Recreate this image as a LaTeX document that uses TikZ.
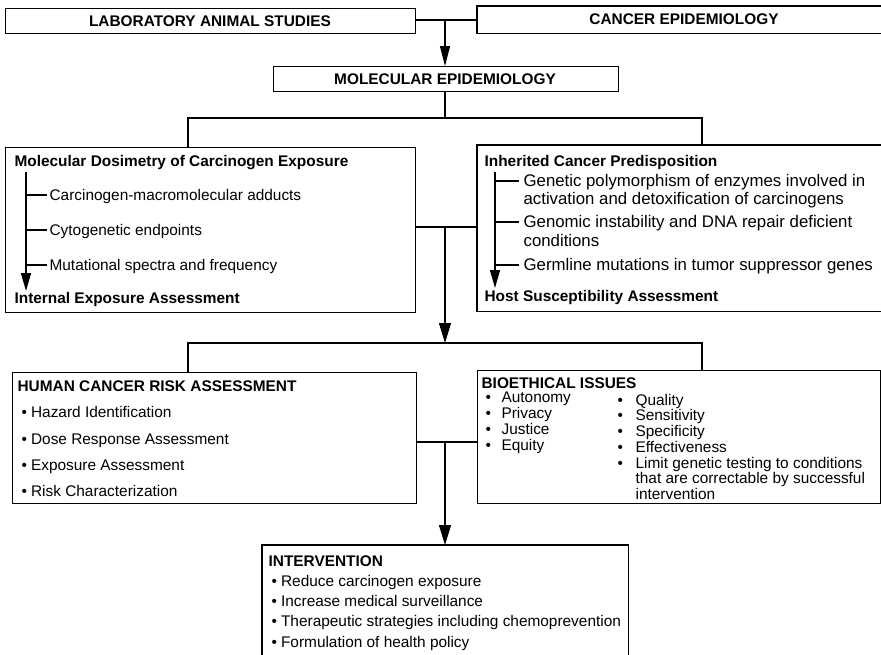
\documentclass[tikz,border=0pt]{standalone}
\usepackage{fontspec}
\setmainfont{Liberation Sans}
\usetikzlibrary{arrows.meta}
\newcommand{\mybul}[1][9.5pt]{\makebox[#1][l]{\textbullet}}
\begin{document}
\begin{tikzpicture}[x=1pt,y=-1pt,line width=1.2pt,
  box/.style={draw,rectangle,inner sep=0pt,anchor=north west},
  txt/.style={anchor=base west,inner sep=0pt,font=\fontsize{15.4}{18}\selectfont},
  btxt/.style={anchor=base west,inner sep=0pt,font=\fontsize{15.4}{18}\selectfont\bfseries},
  rtxt/.style={anchor=base west,inner sep=0pt,font=\fontsize{16.8}{18}\selectfont},
  arr/.style={-{Triangle[width=12pt,length=20pt]}},
  arrt/.style={-{Triangle[width=10pt,length=20pt]}},
  arri/.style={-{Triangle[width=10pt,length=18pt]}}]
\useasboundingbox (0,0) rectangle (881,654);
% boxes
\node[box,minimum width=410pt,minimum height=25pt] (lab) at (5,8) {};
\node[box,draw=none,minimum width=410pt,minimum height=26pt] (cep) at (477,6) {};
\draw (cep.north east) -- (cep.north west) -- (cep.south west) -- (cep.south east);
\node[box,minimum width=345pt,minimum height=25pt] (mol) at (273,66) {};
\node[box,minimum width=410pt,minimum height=165pt] (mds) at (5,147) {};
\node[box,draw=none,minimum width=410pt,minimum height=165pt] (icp) at (477,145) {};
\draw (icp.north east) -- (icp.north west) -- (icp.south west) -- (icp.south east);
\node[box,minimum width=404pt,minimum height=131pt] (hcr) at (12,372) {};
\node[box,minimum width=403pt,minimum height=133pt] (bio) at (477,370) {};
\node[box,draw=none,minimum width=365pt,minimum height=112pt] (int) at (262,545) {};
\draw (int.south west) -- (int.north west) -- (int.north east) -- (int.south east);
% top texts
\node[btxt,anchor=base] (labt) at (210,26.5) {LABORATORY ANIMAL STUDIES};
\node[btxt,anchor=base] (cept) at (684,24.5) {CANCER EPIDEMIOLOGY};
\node[btxt,anchor=base] (molt) at (445,84.5) {MOLECULAR EPIDEMIOLOGY};
% left middle box
\node[btxt] (mdst) at (14,166) {Molecular Dosimetry of Carcinogen Exposure};
\node[txt] (m1) at (49,200) {Carcinogen-macromolecular adducts};
\node[txt] (m2) at (49,235) {Cytogenetic endpoints};
\node[txt] (m3) at (49,270) {Mutational spectra and frequency};
\node[btxt] (mdsb) at (14,303) {Internal Exposure Assessment};
\coordinate (la) at (26,172);
\coordinate (lb) at (26,291);
\draw[arri] (la) -- (lb);
\foreach \n in {m1,m2,m3} \draw ([xshift=-2pt,yshift=5pt]\n.base west) -- +(-21,0);
% right middle box
\node[btxt] (icpt) at (484,166) {Inherited Cancer Predisposition};
\node[rtxt] (r1) at (523,186) {Genetic polymorphism of enzymes involved in};
\node[rtxt] (r1b) at (523,204) {activation and detoxification of carcinogens};
\node[rtxt] (r2) at (523,227) {Genomic instability and DNA repair deficient};
\node[rtxt] (r2b) at (523,246) {conditions};
\node[rtxt] (r3) at (523,270) {Germline mutations in tumor suppressor genes};
\node[btxt] (icpb) at (484,301) {Host Susceptibility Assessment};
\coordinate (ra) at (495,172);
\coordinate (rb) at (495,288);
\draw[arri] (ra) -- (rb);
\foreach \n in {r1,r2,r3} \draw ([xshift=-4pt,yshift=5pt]\n.base west) -- +(-24,0);
% human cancer risk
\node[btxt] (hcrt) at (17,391) {HUMAN CANCER RISK ASSESSMENT};
\node[txt] (h1) at (21,417) {\mybul Hazard Identification};
\node[txt] (h2) at (21,444) {\mybul Dose Response Assessment};
\node[txt] (h3) at (21,470) {\mybul Exposure Assessment};
\node[txt] (h4) at (21,496) {\mybul Risk Characterization};
% bioethical
\node[btxt] (biot) at (481,388) {BIOETHICAL ISSUES};
\node[txt] (b1) at (485,402) {\mybul[16pt]Autonomy};
\node[txt] (b2) at (485,418) {\mybul[16pt]Privacy};
\node[txt] (b3) at (485,434) {\mybul[16pt]Justice};
\node[txt] (b4) at (485,450) {\mybul[16pt]Equity};
\node[txt] (c1) at (617,405) {\mybul[18pt]Quality};
\node[txt] (c2) at (617,420) {\mybul[18pt]Sensitivity};
\node[txt] (c3) at (617,436) {\mybul[18pt]Specificity};
\node[txt] (c4) at (617,452) {\mybul[18pt]Effectiveness};
\node[txt] (c5) at (617,468) {\mybul[18pt]Limit genetic testing to conditions};
\node[txt] (c5b) at (635,483) {that are correctable by successful};
\node[txt] (c5c) at (635,499) {intervention};
% intervention
\node[btxt] (intt) at (268,566) {INTERVENTION};
\node[txt] (i1) at (271,586) {\mybul Reduce carcinogen exposure};
\node[txt] (i2) at (271,606) {\mybul Increase medical surveillance};
\node[txt] (i3) at (271,626) {\mybul Therapeutic strategies including chemoprevention};
\node[txt] (i4) at (271,647) {\mybul Formulation of health policy};
% connectors
\coordinate (j1) at (445,20);
\draw (lab.east |- j1) -- (cep.west |- j1);
\draw[arrt] (j1) -- (mol.north -| j1);
\coordinate (t1) at (188,118);
\coordinate (t2) at (702,118);
\coordinate (j2) at (445,118);
\draw (mol.south -| j2) -- (j2);
\draw (t1 |- mds.north) -- (t1) -- (t2) -- (t2 |- icp.north);
\coordinate (j3) at (445,227);
\coordinate (j4) at (445,343);
\draw (mds.east |- j3) -- (icp.west |- j3);
\draw[arr] (j3) -- (j4);
\coordinate (t3) at (188,343);
\coordinate (t4) at (702,343);
\draw (t3 |- hcr.north) -- (t3) -- (t4) -- (t4 |- bio.north);
\coordinate (j5) at (445,442);
\draw (hcr.east |- j5) -- (bio.west |- j5);
\draw[arr] (j5) -- (int.north -| j5);
\end{tikzpicture}
\end{document}
